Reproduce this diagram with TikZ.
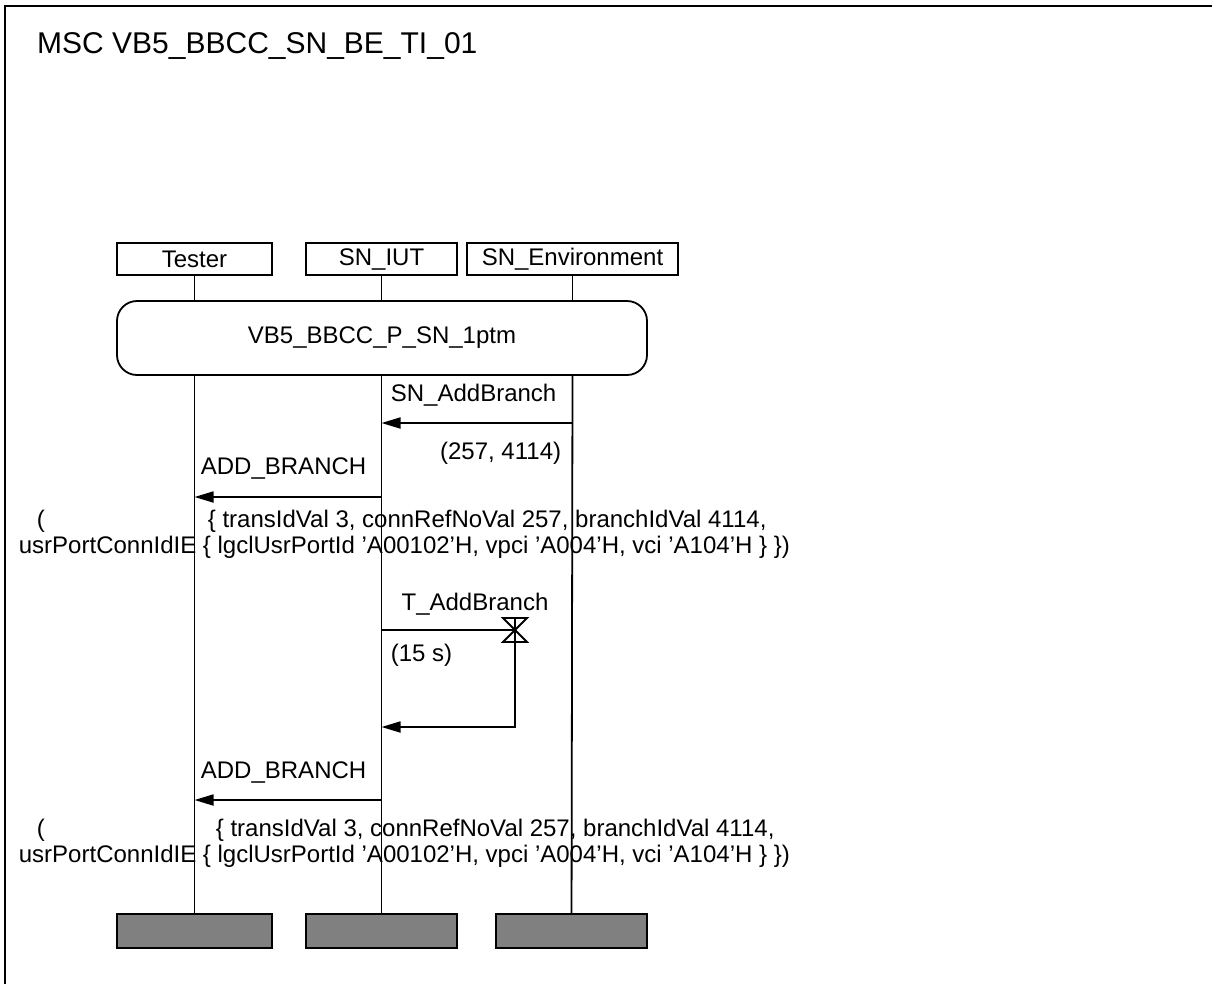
\documentclass[tikz,border=0pt]{standalone}
\usepackage{fontspec}
\setmainfont{Liberation Sans}
\usetikzlibrary{arrows.meta, positioning}

\begin{document}
\begin{tikzpicture}[x=1pt, y=-1pt, line width=1.8pt,
    font=\fontsize{24}{27}\selectfont,
    instance/.style={draw, minimum width=155pt, minimum height=32pt, inner sep=0pt},
    endbar/.style={draw, fill=gray, minimum width=155pt, minimum height=34pt, inner sep=0pt},
    msg/.style={-{Triangle[length=19pt, width=11pt]}},
    lbl/.style={anchor=west, inner sep=0pt}]
        \useasboundingbox (0,0) rectangle (1212,983);
        \draw[line width=2.2pt] (5,1000) |- (1230,6);
        \node[anchor=west, font=\fontsize{30}{32}\selectfont] (title) at (33,46) {MSC VB5\_BBCC\_SN\_BE\_TI\_01};

        \node[instance] (tester) at (194.5,259) {Tester};
        \node[instance, minimum width=151pt] (iut) at (381.5,259) {SN\_IUT};
        \node[instance, minimum width=211pt] (env) at (572.5,259) {SN\_Environment};
        \node[draw, rounded corners=20pt, minimum width=530pt, minimum height=74pt] (ref) at (382,338) {VB5\_BBCC\_P\_SN\_1ptm};

        \node[endbar] (tester end) at (194.5,931) {};
        \node[endbar, minimum width=151pt] (iut end) at (381.5,931) {};
        \node[endbar, minimum width=151pt] (env end) at (571.5,931) {};

        \foreach \inst in {tester, iut, env} {
            \draw (\inst) -- (\inst |- ref.north);
            \draw (\inst |- ref.south) -- (\inst\space end);
        }

        \coordinate (e1) at (env |- 0,423);
        \coordinate (i1) at (iut |- 0,423);
        \coordinate (i2) at (iut |- 0,497);
        \coordinate (t2) at (tester |- 0,497);
        \coordinate (i3) at (iut |- 0,630);
        \coordinate (timer) at (515,630);
        \coordinate (i4) at (iut |- 0,727);
        \coordinate (i5) at (iut |- 0,800);
        \coordinate (t5) at (tester |- 0,800);

        % SN_AddBranch
        \draw[msg] (e1) -- (i1);
        \node[lbl] (m1) at (390,395) {SN\_AddBranch};
        \node[anchor=east, inner sep=0pt] (m1 par) at (562,453) {(257, 4114)};

        % ADD_BRANCH
        \draw[msg] (i2) -- (t2);
        \node[lbl] (m2) at (200,468) {ADD\_BRANCH};
        \node[lbl] (m2 open) at (36,521) {(};
        \node[lbl] (m2 par) at (207,521) {\{ transIdVal 3, connRefNoVal 257, branchIdVal 4114,};
        \node[lbl] (m2 ie) at (18,547) {usrPortConnIdIE \{ lgclUsrPortId 'A00102'H, vpci 'A004'H, vci 'A104'H \} \})};

        % timer
        \draw (i3) -- (timer);
        \draw (timer) ++(-12,-12) -- ++(24,0) -- ++(-24,24) -- ++(24,0) -- cycle;
        \node (tm) at (475,604) {T\_AddBranch};
        \node[lbl] (tm par) at (390,655) {(15 s)};
        \draw[msg] ([yshift=12pt]timer) |- (i4);

        % ADD_BRANCH again
        \draw[msg] (i5) -- (t5);
        \node[lbl] (m3) at (200,772) {ADD\_BRANCH};
        \node[lbl] (m3 open) at (36,830) {(};
        \node[lbl] (m3 par) at (215,830) {\{ transIdVal 3, connRefNoVal 257, branchIdVal 4114,};
        \node[lbl] (m3 ie) at (18,856) {usrPortConnIdIE \{ lgclUsrPortId 'A00102'H, vpci 'A004'H, vci 'A104'H \} \})};
\end{tikzpicture}
\end{document}
